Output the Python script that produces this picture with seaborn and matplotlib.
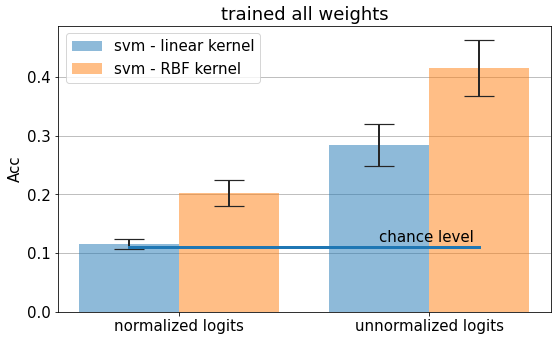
import matplotlib
matplotlib.use("Agg")
import matplotlib.pyplot as plt
import seaborn as sns
import pandas as pd

# values
inputs = ["normalized logits", "unnormalized logits"]
models = ["svm - linear kernel", "svm - RBF kernel"]
acc_linear = [0.116, 0.284]
acc_rbf = [0.202, 0.415]
err_linear = [0.0085, 0.036]
err_rbf = [0.022, 0.048]
chance = 0.11

df = pd.DataFrame({
    "input": inputs * 2,
    "model": [models[0]] * 2 + [models[1]] * 2,
    "acc": acc_linear + acc_rbf,
    "err": err_linear + err_rbf,
})

plt.rcParams['font.size'] = 15
fig, ax = plt.subplots(figsize=(7.75, 4.74), dpi=72)

sns.barplot(data=df, x="input", y="acc", hue="model", errorbar=None,
            palette=["tab:blue", "tab:orange"], saturation=1, alpha=0.5,
            ax=ax, zorder=2)

# error bars at the bar centres
for bar, (_, row) in zip(ax.patches, df.iterrows()):
    cx = bar.get_x() + bar.get_width() / 2
    ax.errorbar(cx, row["acc"], yerr=row["err"], color="#262626",
                capsize=15, elinewidth=2, capthick=1.2, zorder=3)

ax.plot([-0.2, 1.2], [chance, chance], color="tab:blue", lw=3, zorder=4)
ax.text(0.8, 0.12, "chance level", fontsize=15)

ax.set_xlim(-0.485, 1.488)
ax.set_ylim(0, 0.487)
ax.set_yticks([0.0, 0.1, 0.2, 0.3, 0.4])
ax.yaxis.grid(True, color="#b0b0b0", zorder=0)
ax.set_axisbelow(True)
ax.set_xlabel("")
ax.set_ylabel("Acc")
ax.set_title("trained all weights", fontsize=18)
ax.legend(loc="upper left", fontsize=15)

fig.subplots_adjust(left=0.104, right=0.988, top=0.924, bottom=0.085)
fig.savefig("out.png")
